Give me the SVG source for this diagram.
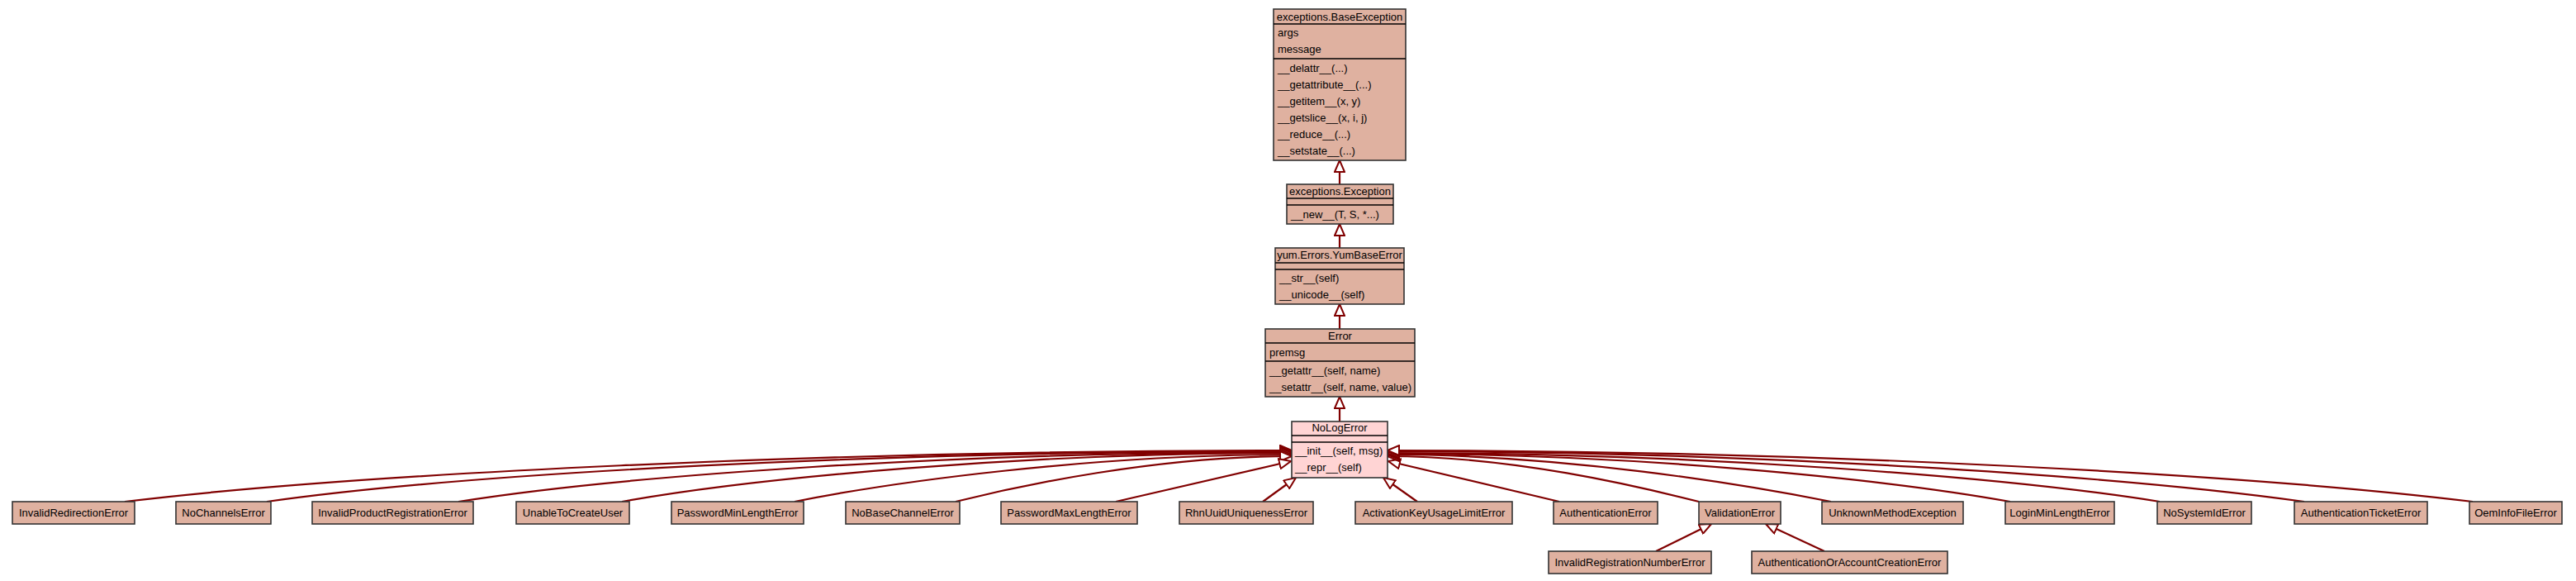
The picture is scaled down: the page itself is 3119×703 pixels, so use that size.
<svg xmlns="http://www.w3.org/2000/svg" width="3119" height="703" viewBox="0 0 3119 703">
<defs>
<style>
.n{fill:#dfb1a0;stroke:#333;stroke-width:1.6}
.p{fill:#ffd4d4;stroke:#333;stroke-width:1.6}
.s{stroke:#000;stroke-width:1.6}
text{font-family:"Liberation Sans",Arial,sans-serif;font-size:13px;fill:#000}
.c{text-anchor:middle}
.e path{fill:none;stroke:#800000;stroke-width:2.2;marker-end:url(#inh)}
</style>
<marker id="inh" markerWidth="16" markerHeight="14" refX="14" refY="6" orient="auto" markerUnits="userSpaceOnUse" viewBox="-1 -1 16 14">
<path d="M0,0 L14,6 L0,12 Z" fill="#fff" stroke="#800000" stroke-width="2"/>
</marker>
</defs>
<rect width="3119" height="703" fill="#fff"/>

<g class="e" id="edges">
<path d="M1622,223 L1622,194"/>
<path d="M1622,300 L1622,271"/>
<path d="M1622,398 L1622,368"/>
<path d="M1622,510 L1622,480"/>
<path d="M151,607 C434,573 999,545 1564,545"/>
<path d="M323,607 C571,572 1068,546 1564,546"/>
<path d="M555,607 C757,575 1160,547 1564,547"/>
<path d="M753,607 C915,578 1240,548 1564,548"/>
<path d="M962,607 C1082,583 1323,550 1564,550"/>
<path d="M1157,607 C1238,587 1401,552 1564,552"/>
<path d="M1351,607 L1563,558"/>
<path d="M1529,607 L1569,578"/>
<path d="M1716,607 L1675,578"/>
<path d="M1888,607 L1681,558"/>
<path d="M2057,607 C1982,588 1831,552 1680,552"/>
<path d="M2217,607 C2110,586 1895,550 1680,550"/>
<path d="M2434,607 C2283,580 1982,549 1680,549"/>
<path d="M2615,607 C2428,577 2054,548 1680,548"/>
<path d="M2790,607 C2568,576 2124,546 1680,546"/>
<path d="M2994,607 C2731,575 2206,545 1680,545"/>
<path d="M2005,667 L2072,634"/>
<path d="M2209,667 L2138,634"/>
</g>

<g id="BaseException">
<rect class="n" x="1542" y="11" width="160" height="183"/>
<line class="s" x1="1542" y1="29" x2="1702" y2="29"/>
<line class="s" x1="1542" y1="71" x2="1702" y2="71"/>
<text class="c" x="1622" y="24.5">exceptions.BaseException</text>
<text x="1547" y="43.5">args</text>
<text x="1547" y="63.5">message</text>
<text x="1547" y="86.5">__delattr__(...)</text>
<text x="1547" y="106.5">__getattribute__(...)</text>
<text x="1547" y="126.5">__getitem__(x, y)</text>
<text x="1547" y="146.5">__getslice__(x, i, j)</text>
<text x="1547" y="166.5">__reduce__(...)</text>
<text x="1547" y="186.5">__setstate__(...)</text>
</g>

<g id="Exception">
<rect class="n" x="1558" y="223" width="129" height="48"/>
<line class="s" x1="1558" y1="240" x2="1687" y2="240"/>
<line class="s" x1="1558" y1="248" x2="1687" y2="248"/>
<text class="c" x="1622.5" y="235.5">exceptions.Exception</text>
<text x="1563" y="264">__new__(T, S, *...)</text>
</g>

<g id="YumBaseError">
<rect class="n" x="1544" y="300" width="156" height="68"/>
<line class="s" x1="1544" y1="318" x2="1700" y2="318"/>
<line class="s" x1="1544" y1="326" x2="1700" y2="326"/>
<text class="c" x="1622" y="313">yum.Errors.YumBaseError</text>
<text x="1549" y="341">__str__(self)</text>
<text x="1549" y="361">__unicode__(self)</text>
</g>

<g id="Error">
<rect class="n" x="1532" y="398" width="181" height="82"/>
<line class="s" x1="1532" y1="415" x2="1713" y2="415"/>
<line class="s" x1="1532" y1="437" x2="1713" y2="437"/>
<text class="c" x="1622.5" y="411">Error</text>
<text x="1537" y="431">premsg</text>
<text x="1537" y="453">__getattr__(self, name)</text>
<text x="1537" y="473">__setattr__(self, name, value)</text>
</g>

<g id="NoLogError">
<rect class="p" x="1564" y="510" width="116" height="68"/>
<line class="s" x1="1564" y1="527" x2="1680" y2="527"/>
<line class="s" x1="1564" y1="535" x2="1680" y2="535"/>
<text class="c" x="1622" y="522">NoLogError</text>
<text x="1568" y="550">__init__(self, msg)</text>
<text x="1568" y="570">__repr__(self)</text>
</g>

<g id="InvalidRedirectionError"><rect class="n" x="15" y="607" width="148" height="27"/><text class="c" x="89" y="625">InvalidRedirectionError</text></g>
<g id="NoChannelsError"><rect class="n" x="213" y="607" width="115" height="27"/><text class="c" x="270.5" y="625">NoChannelsError</text></g>
<g id="InvalidProductRegistrationError"><rect class="n" x="378" y="607" width="195" height="27"/><text class="c" x="475.5" y="625">InvalidProductRegistrationError</text></g>
<g id="UnableToCreateUser"><rect class="n" x="625" y="607" width="137" height="27"/><text class="c" x="693.5" y="625">UnableToCreateUser</text></g>
<g id="PasswordMinLengthError"><rect class="n" x="813" y="607" width="160" height="27"/><text class="c" x="893" y="625">PasswordMinLengthError</text></g>
<g id="NoBaseChannelError"><rect class="n" x="1024" y="607" width="138" height="27"/><text class="c" x="1093" y="625">NoBaseChannelError</text></g>
<g id="PasswordMaxLengthError"><rect class="n" x="1212" y="607" width="165" height="27"/><text class="c" x="1294.5" y="625">PasswordMaxLengthError</text></g>
<g id="RhnUuidUniquenessError"><rect class="n" x="1428" y="607" width="162" height="27"/><text class="c" x="1509" y="625">RhnUuidUniquenessError</text></g>
<g id="ActivationKeyUsageLimitError"><rect class="n" x="1641" y="607" width="190" height="27"/><text class="c" x="1736" y="625">ActivationKeyUsageLimitError</text></g>
<g id="AuthenticationError"><rect class="n" x="1881" y="607" width="126" height="27"/><text class="c" x="1944" y="625">AuthenticationError</text></g>
<g id="ValidationError"><rect class="n" x="2057" y="607" width="99" height="27"/><text class="c" x="2106.5" y="625">ValidationError</text></g>
<g id="UnknownMethodException"><rect class="n" x="2206" y="607" width="171" height="27"/><text class="c" x="2291.5" y="625">UnknownMethodException</text></g>
<g id="LoginMinLengthError"><rect class="n" x="2428" y="607" width="132" height="27"/><text class="c" x="2494" y="625">LoginMinLengthError</text></g>
<g id="NoSystemIdError"><rect class="n" x="2612" y="607" width="114" height="27"/><text class="c" x="2669" y="625">NoSystemIdError</text></g>
<g id="AuthenticationTicketError"><rect class="n" x="2778" y="607" width="161" height="27"/><text class="c" x="2858.5" y="625">AuthenticationTicketError</text></g>
<g id="OemInfoFileError"><rect class="n" x="2990" y="607" width="112" height="27"/><text class="c" x="3046" y="625">OemInfoFileError</text></g>
<g id="InvalidRegistrationNumberError"><rect class="n" x="1875" y="667" width="197" height="27"/><text class="c" x="1973.5" y="685">InvalidRegistrationNumberError</text></g>
<g id="AuthenticationOrAccountCreationError"><rect class="n" x="2121" y="667" width="237" height="27"/><text class="c" x="2239.5" y="685">AuthenticationOrAccountCreationError</text></g>
</svg>
